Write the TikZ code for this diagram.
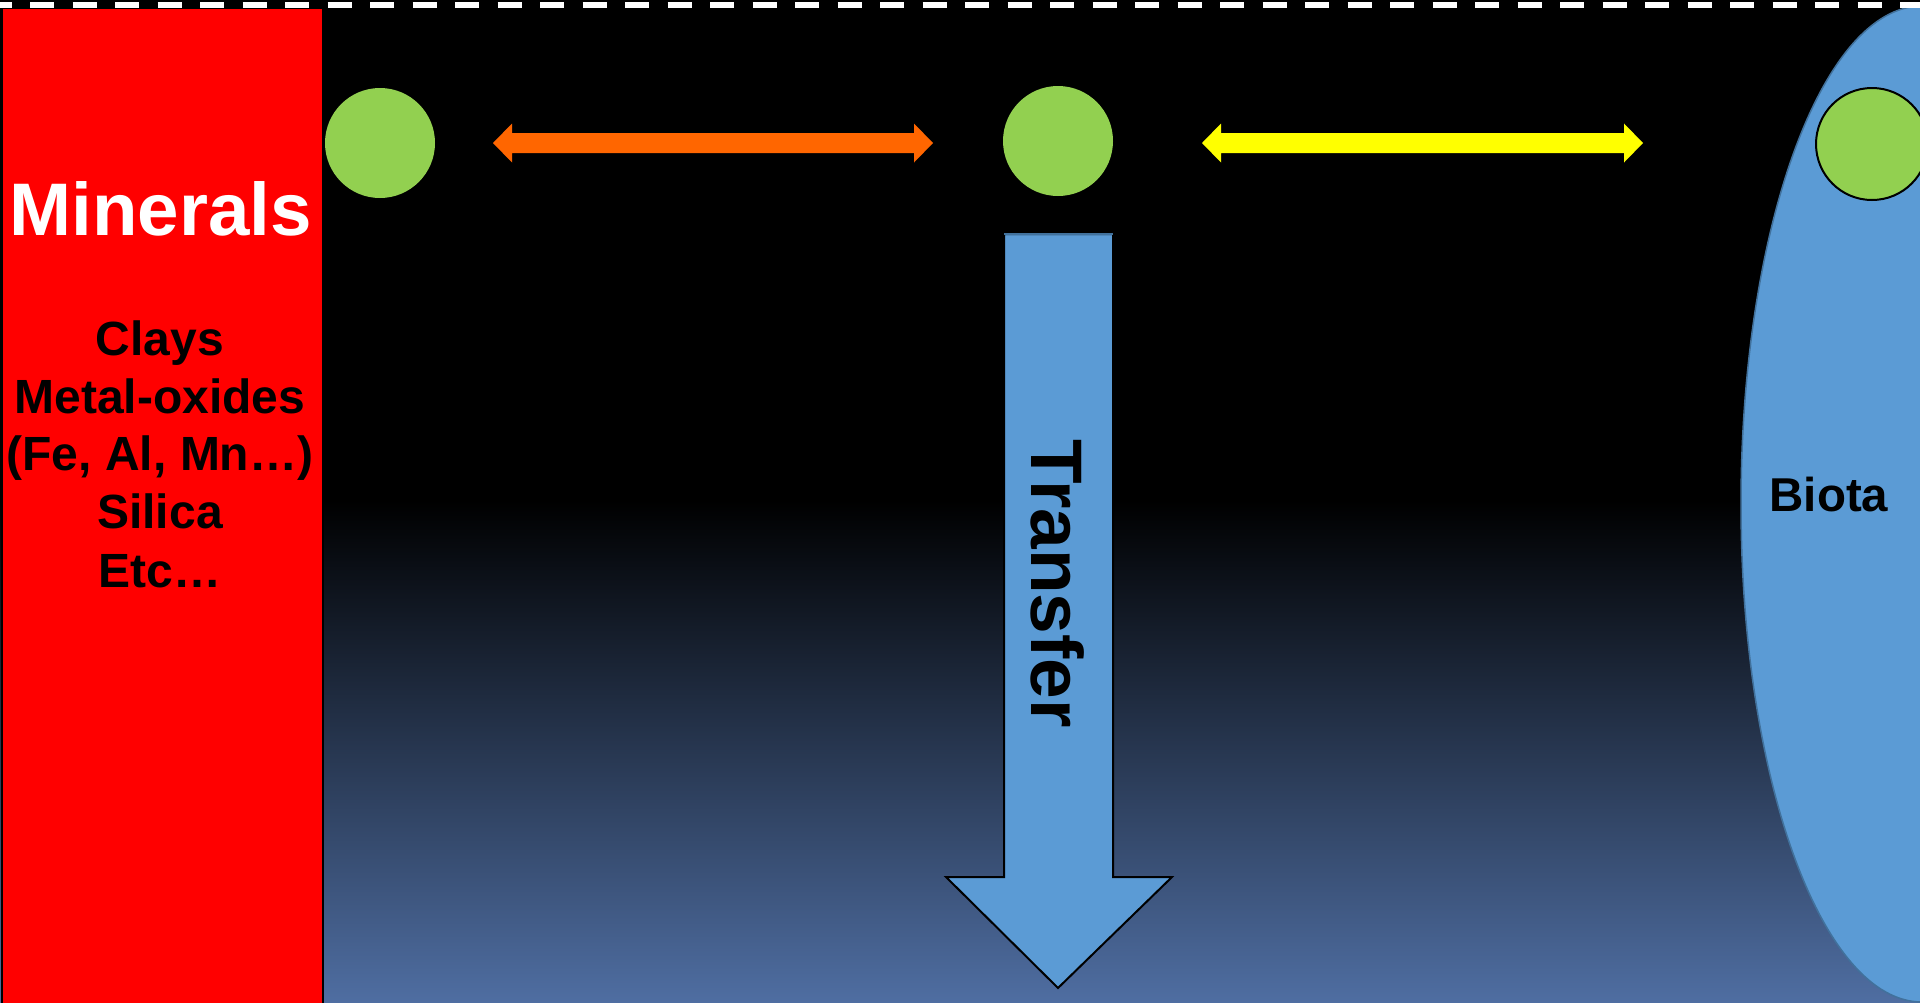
\documentclass[tikz,border=0pt]{standalone}
\usepackage{fontspec}
\setmainfont{Liberation Sans}
\usetikzlibrary{calc}
\definecolor{leaf}{HTML}{92D050}
\definecolor{flame}{HTML}{FF6600}
\definecolor{lemon}{HTML}{FFFF00}
\definecolor{skyblue}{HTML}{5B9BD5}
\definecolor{edgeblue}{HTML}{41719C}
\definecolor{deepsea}{RGB}{79,110,162}
\begin{document}
\begin{tikzpicture}[x=1pt,y=-1pt,
  dot/.style={circle, fill=leaf, inner sep=0pt, minimum size=110pt},
  bigword/.style={font=\fontsize{74.5}{88}\selectfont\bfseries, inner sep=0pt, anchor=base},
  listword/.style={font=\fontsize{48}{58}\selectfont\bfseries, inner sep=0pt, anchor=base, text=black},
  surface/.style={white, line width=6pt, dash pattern=on 24.3pt off 18.2pt, dash phase=12.5pt}
]
\useasboundingbox (0,0) rectangle (1920,1002);
\clip (0,0) rectangle (1920,1002);

% water column: black fading to blue towards the bottom
\fill[black] (0,0) rectangle (1920,1002);
\shade[top color=black, bottom color=deepsea] (0,500) rectangle (1920,1003);

% mineral phase
\node (minbox) [rectangle, fill=red, draw=black, line width=2pt, inner sep=0pt,
  minimum width=321pt, minimum height=1000pt, anchor=north west] at (1,7) {};

% biota
\draw[fill=skyblue, draw=edgeblue, line width=1.5pt] (1922,504) ellipse [x radius=181pt, y radius=498pt];

% water surface
\coordinate (sl) at (0,5);
\coordinate (sr) at (1920,5);
\draw[surface] (sl) -- (sr);

% particles
\node[dot] (g1) at (380,143) {};
\node[dot] (g2) at (1058,141) {};
\node[dot, draw=black, line width=2pt, minimum size=112pt] (g3) at (1872,144) {};

% exchange arrows
\coordinate (oL) at (493,143);
\coordinate (oR) at (933,143);
\fill[flame] (oL) -- ++(19,-19.5) -- ++(0,9.5) -- ($(oR)+(-19,-10)$) -- ++(0,-9.5)
  -- (oR) -- ++(-19,19.5) -- ++(0,-9.5) -- ($(oL)+(19,10)$) -- ++(0,9.5) -- cycle;

\coordinate (yL) at (1202,143);
\coordinate (yR) at (1643,143);
\fill[lemon] (yL) -- ++(19,-19.5) -- ++(0,9.5) -- ($(yR)+(-19,-10)$) -- ++(0,-9.5)
  -- (yR) -- ++(-19,19.5) -- ++(0,-9.5) -- ($(yL)+(19,10)$) -- ++(0,9.5) -- cycle;

% downward transfer
\coordinate (tTop) at (1058.5,234);
\coordinate (tTip) at (1058,988);
\filldraw[fill=skyblue, draw=black, line width=2pt, line join=miter]
  ($(tTop)+(-54.5,0)$) -- ($(tTop)+(54.5,0)$) -- (1113,877) -- (1172,877)
  -- (tTip) -- (946,877) -- (1004,877) -- cycle;
\draw[edgeblue, line width=2pt] ($(tTop)+(-54.5,0)$) -- ($(tTop)+(54.5,0)$);
\node[font=\fontsize{73}{88}\selectfont\bfseries, inner sep=0pt, anchor=base, rotate=-90, text=black] (transfer) at (1031,583.5) {Transfer};

% labels
\node[bigword, text=white] (minerals) at (160.5,235) {Minerals};
\node[listword] (l1) at (160,355) {Clays};
\node[listword] (l2) at (160,413) {Metal-oxides};
\node[listword] (l3) at (160,470) {(Fe, Al, Mn…)};
\node[listword] (l4) at (160,528) {Silica};
\node[listword] (l5) at (160,587) {Etc…};
\node[listword, font=\fontsize{47.5}{58}\selectfont\bfseries] (biota) at (1829,511) {Biota};
\end{tikzpicture}
\end{document}
